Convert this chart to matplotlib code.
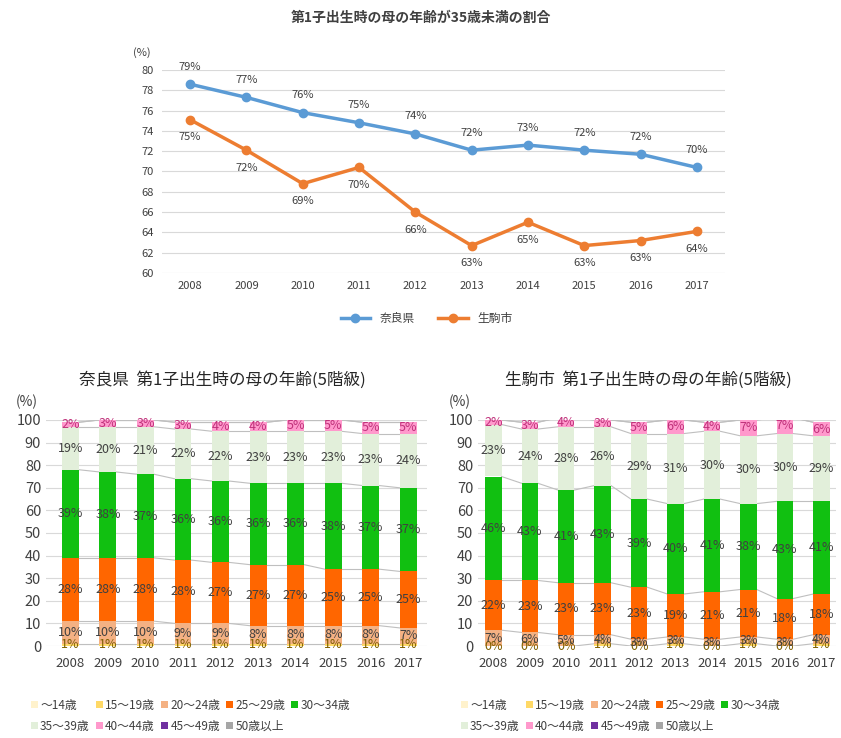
import matplotlib
matplotlib.use("Agg")
from matplotlib import pyplot as plt
import numpy as np

plt.rcParams['font.family'] = ['Noto Sans CJK JP', 'DejaVu Sans']

years = ["2008", "2009", "2010", "2011", "2012", "2013", "2014", "2015", "2016", "2017"]

# top chart: share of first births with mother under 35
nara_line = [78.6, 77.3, 75.8, 74.8, 73.7, 72.1, 72.6, 72.1, 71.7, 70.4]
ikoma_line = [75.1, 72.1, 68.8, 70.4, 66.0, 62.7, 65.0, 62.7, 63.2, 64.1]

age_groups = ["～14歳", "15～19歳", "20～24歳", "25～29歳", "30～34歳",
              "35～39歳", "40～44歳", "45～49歳", "50歳以上"]
age_colors = ["#fff2cc", "#ffd966", "#f4b183", "#ff6600", "#11c011",
              "#e2efda", "#ff99cc", "#7030a0", "#a6a6a6"]

# Nara prefecture, % by age group
nara_u14 = [0, 0, 0, 0, 0, 0, 0, 0, 0, 0]
nara_15 = [1, 1, 1, 1, 1, 1, 1, 1, 1, 1]
nara_20 = [10, 10, 10, 9, 9, 8, 8, 8, 8, 7]
nara_25 = [28, 28, 28, 28, 27, 27, 27, 25, 25, 25]
nara_30 = [39, 38, 37, 36, 36, 36, 36, 38, 37, 37]
nara_35 = [19, 20, 21, 22, 22, 23, 23, 23, 23, 24]
nara_40 = [2, 3, 3, 3, 4, 4, 5, 5, 5, 5]
nara_45 = [0, 0, 0, 0, 0, 0, 0, 0, 0, 0]
nara_50 = [0, 0, 0, 0, 0, 0, 0, 0, 0, 0]

# Ikoma city, % by age group
ikoma_u14 = [0, 0, 0, 0, 0, 0, 0, 0, 0, 0]
ikoma_15 = [0, 0, 0, 1, 0, 1, 0, 1, 0, 1]
ikoma_20 = [7, 6, 5, 4, 3, 3, 3, 3, 3, 4]
ikoma_25 = [22, 23, 23, 23, 23, 19, 21, 21, 18, 18]
ikoma_30 = [46, 43, 41, 43, 39, 40, 41, 38, 43, 41]
ikoma_35 = [23, 24, 28, 26, 29, 31, 30, 30, 30, 29]
ikoma_40 = [2, 3, 4, 3, 5, 6, 4, 7, 7, 6]
ikoma_45 = [0, 0, 0, 0, 0, 0, 0, 0, 0, 0]
ikoma_50 = [0, 0, 0, 0, 0, 0, 0, 0, 0, 0]

W, H = 841, 738
fig = plt.figure(figsize=(W / 100, H / 100), dpi=100)

def box(l, t, r, b):
    return [l / W, 1 - b / H, (r - l) / W, (b - t) / H]

# ---------- top line chart ----------
ax = fig.add_axes(box(162, 70, 725, 273))
x = np.arange(len(years))
ax.plot(x, nara_line, color="#5b9bd5", lw=2.5, marker="o", ms=6, label="奈良県")
ax.plot(x, ikoma_line, color="#ed7d31", lw=2.5, marker="o", ms=6, label="生駒市")
for i in range(len(years)):
    ax.annotate("%d%%" % round(nara_line[i]), (x[i], nara_line[i]), xytext=(0, 9),
                textcoords="offset points", ha="center", va="bottom", fontsize=8, color="#404040")
    ax.annotate("%d%%" % round(ikoma_line[i]), (x[i], ikoma_line[i]), xytext=(0, -9),
                textcoords="offset points", ha="center", va="top", fontsize=8, color="#404040")
ax.set_xlim(-0.5, 9.5)
ax.set_ylim(60, 80)
ax.set_yticks(range(60, 81, 2))
ax.set_xticks(x)
ax.set_xticklabels(years)
ax.tick_params(length=0, labelsize=8, labelcolor="#404040", pad=6)
ax.grid(axis="y", color="#d9d9d9", lw=0.8)
ax.set_axisbelow(True)
for s in ax.spines.values():
    s.set_visible(False)
ax.text(-0.035, 1.07, "(%)", transform=ax.transAxes, fontsize=8, color="#404040", ha="center")
ax.legend(loc="upper center", bbox_to_anchor=(0.47, -0.14), ncol=2, frameon=False,
          fontsize=8.5, labelcolor="#404040", handlelength=2.5, columnspacing=2)
fig.text(0.5, 0.976, "第1子出生時の母の年齢が35歳未満の割合", ha="center", va="center",
         fontsize=10, fontweight="bold", color="#404040")

# ---------- stacked bars ----------
def stacked(rect, xlim, data, title, title_x, legend_x):
    ax = fig.add_axes(box(*rect))
    w = 0.45
    bottom = np.zeros(len(years))
    tops = []
    for k, vals in enumerate(data):
        vals = np.array(vals, dtype=float)
        ax.bar(x, vals, w, bottom=bottom, color=age_colors[k], label=age_groups[k], zorder=2)
        if k in (1, 2, 3, 4, 5, 6):
            col = "#c0307a" if k == 6 else ("#7f6000" if k == 1 else "#404040")
            for i in range(len(years)):
                ax.text(x[i], bottom[i] + vals[i] / 2, "%d%%" % vals[i], ha="center", va="center",
                        fontsize=9, color=col, zorder=4)
        bottom = bottom + vals
        tops.append(bottom.copy())
    # series lines between bars
    for k in range(1, 8):
        lev = tops[k]
        for i in range(len(years) - 1):
            ax.plot([x[i] + w / 2, x[i + 1] - w / 2], [lev[i], lev[i + 1]],
                    color="#bfbfbf", lw=0.8, zorder=1)
    ax.set_xlim(*xlim)
    ax.set_ylim(0, 100)
    ax.set_yticks(range(0, 101, 10))
    ax.set_xticks(x)
    ax.set_xticklabels(years)
    ax.tick_params(axis="x", length=0, labelsize=9.5, labelcolor="#404040", pad=8)
    ax.tick_params(axis="y", length=0, labelsize=10.5, labelcolor="#404040")
    ax.grid(axis="y", color="#d9d9d9", lw=0.8, zorder=0)
    ax.set_axisbelow(True)
    for s in ax.spines.values():
        s.set_visible(False)
    ax.text(-0.05, 1.06, "(%)", transform=ax.transAxes, fontsize=10, color="#404040", ha="center")
    fig.text(title_x / W, 1 - 380 / H, title, ha="center", va="center", fontsize=12,
             color="#262626")
    h, l = ax.get_legend_handles_labels()
    order = [0, 5, 1, 6, 2, 7, 3, 8, 4]
    ax.legend([h[j] for j in order], [l[j] for j in order], loc="upper left",
              bbox_to_anchor=(legend_x / W, 1 - 688 / H), bbox_transform=fig.transFigure,
              ncol=5, frameon=False, fontsize=8.5, labelcolor="#404040",
              handlelength=0.6, handleheight=0.6, handletextpad=0.2, columnspacing=0.5,
              labelspacing=0.7)
    return ax

stacked((46, 420, 427, 646), (-0.65, 9.5),
        [nara_u14, nara_15, nara_20, nara_25, nara_30, nara_35, nara_40, nara_45, nara_50],
        "奈良県  第1子出生時の母の年齢(5階級)", 222, 20)
stacked((478, 420, 836, 646), (-0.42, 9.4),
        [ikoma_u14, ikoma_15, ikoma_20, ikoma_25, ikoma_30, ikoma_35, ikoma_40, ikoma_45, ikoma_50],
        "生駒市  第1子出生時の母の年齢(5階級)", 648, 450)

plt.savefig("out.png", dpi=100)
